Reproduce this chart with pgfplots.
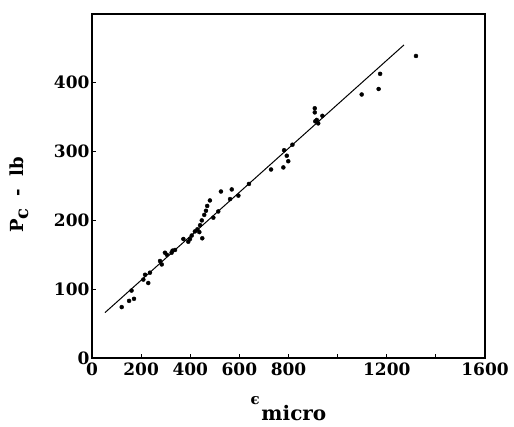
\documentclass[border=0pt]{standalone}
\usepackage{pgfplots}
\pgfplotsset{compat=1.18}
\usepackage{fontspec}
\setmainfont{DejaVu Serif}
\usetikzlibrary{calc}
\begin{document}
\begin{tikzpicture}
\begin{axis}[
  name=ax,
  scale only axis,
  width=393pt, height=344pt,
  xmin=0, xmax=1600, ymin=0, ymax=500,
  xtick={0,200,400,600,800,1000,1200,1400,1600},
  xticklabels={0,200,400,600,800,,1200,,1600},
  ytick={0,100,200,300,400},
  tick align=inside,
  xtick pos=bottom, ytick pos=left,
  major tick length=4pt,
  axis line style={line width=1.1pt},
  tick style={line width=0.8pt, black},
  /pgf/number format/assume math mode=true,
  /pgf/number format/1000 sep={},
  ticklabel style={font=\fontsize{17}{19}\selectfont\bfseries},
  xticklabel style={yshift=-1pt},
  yticklabel style={xshift=1pt},
  xlabel={\raisebox{16pt}{\fontsize{15}{15}\selectfont\bfseries ϵ}\,{\fontsize{20}{22}\selectfont\bfseries micro}},
  ylabel={\fontsize{18}{20}\selectfont\bfseries P\raisebox{-5pt}{c}\,\, -\,\, lb},
  xlabel style={yshift=-14pt, xshift=0pt},
  ylabel style={yshift=18pt, xshift=-9pt},
  clip=false,
]
\addplot[black, line width=1pt] coordinates {(53,66) (1270,455)};
\addplot[only marks, mark=*, mark size=2pt, black] coordinates {
(121,74) (151,83) (171,86) (161,98) (209,114) (229,109) (216,121) (236,124)
(277,141) (284,136) (297,153) (305,150) (324,153) (338,157) (328,156)
(372,173) (392,169) (399,173) (406,178) (419,184) (429,187) (437,183)
(440,193) (449,174) (447,200) (457,208) (464,214) (469,221) (480,229)
(494,204) (514,213) (525,242) (569,245) (562,231) (596,236) (639,253)
(729,274) (779,277) (799,286) (793,294) (782,302) (816,310)
(907,363) (907,357) (909,344) (915,346) (921,341) (938,352)
(1098,383) (1167,391) (1173,413) (1319,439)
};
\end{axis}
\pgfresetboundingbox
\path ($(ax.south west)+(-92pt,-69pt)$) rectangle ($(ax.north east)+(29pt,14pt)$);
\end{tikzpicture}
\end{document}
